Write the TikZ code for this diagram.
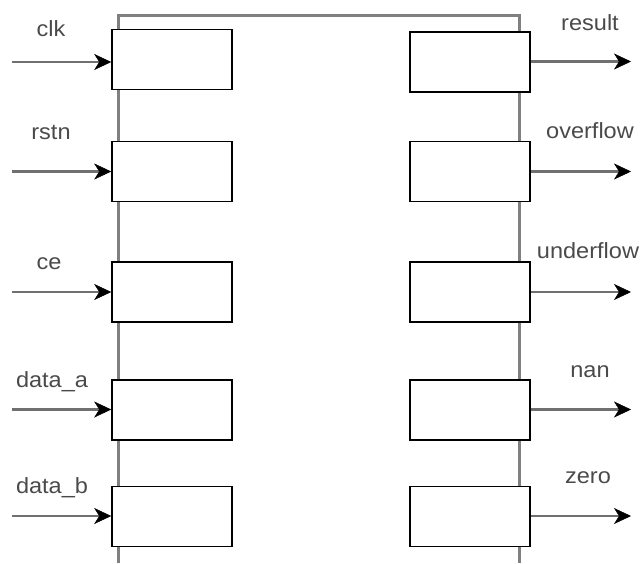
\documentclass[tikz,border=0pt]{standalone}
\usepackage{fontspec}
\setmainfont{Liberation Sans}
\newfontfamily\lblfont[FakeStretch=1.07]{Liberation Sans}
\usetikzlibrary{arrows.meta}
\definecolor{framegray}{HTML}{808080}
\definecolor{wiregray}{HTML}{707070}
\definecolor{txtgray}{HTML}{4A4A4A}
\begin{document}
\begin{tikzpicture}[x=1pt,y=-1pt,
  portbox/.style={draw=black,fill=white,line width=1.6pt,minimum width=120pt,minimum height=60pt,inner sep=0pt},
  wire/.style={draw=wiregray,line width=2.6pt,-{Stealth[length=17pt,width=16pt,inset=5pt,fill=black,color=black,line width=0.5pt]}},
  frame/.style={draw=framegray,line width=2.6pt},
  lbl/.style={text=txtgray,font=\lblfont\fontsize{22}{26}\selectfont,anchor=base,inner sep=0pt}]
\useasboundingbox (0,0) rectangle (644,563);
% outer frame
\coordinate (fbl) at (118.5,563);
\coordinate (ftl) at (118.5,15.5);
\coordinate (ftr) at (519.5,15.5);
\coordinate (fbr) at (519.5,563);
\draw[frame] (fbl) -- (ftl) -- (ftr) -- (fbr);
% left boxes
\node[portbox] (l1) at (172,59.5) {};
\node[portbox] (l2) at (172,171.5) {};
\node[portbox] (l3) at (172,292) {};
\node[portbox] (l4) at (172,410) {};
\node[portbox] (l5) at (172,516.5) {};
% right boxes
\node[portbox] (r1) at (470,62) {};
\node[portbox] (r2) at (470,171.5) {};
\node[portbox] (r3) at (470,292) {};
\node[portbox] (r4) at (470,410) {};
\node[portbox] (r5) at (470,516.5) {};
% input wire starts
\coordinate (i1) at (12,62);
\coordinate (i2) at (12,171.5);
\coordinate (i3) at (12,292);
\coordinate (i4) at (12,409.5);
\coordinate (i5) at (12,516);
\draw[wire] (i1) -- (i1 -| l1.west);
\draw[wire] (i2) -- (i2 -| l2.west);
\draw[wire] (i3) -- (i3 -| l3.west);
\draw[wire] (i4) -- (i4 -| l4.west);
\draw[wire] (i5) -- (i5 -| l5.west);
% output wire ends
\coordinate (o1) at (631,61.5);
\coordinate (o2) at (631,171.5);
\coordinate (o3) at (631,292);
\coordinate (o4) at (631,409.5);
\coordinate (o5) at (631,516);
\draw[wire] (o1 -| r1.east) -- (o1);
\draw[wire] (o2 -| r2.east) -- (o2);
\draw[wire] (o3 -| r3.east) -- (o3);
\draw[wire] (o4 -| r4.east) -- (o4);
\draw[wire] (o5 -| r5.east) -- (o5);
% labels
\node[lbl] (t1) at (51,36.7) {clk};
\node[lbl] (t2) at (51,139.3) {rstn};
\node[lbl] (t3) at (49,269) {ce};
\node[lbl] (t4) at (52,387.3) {data\_a};
\node[lbl] (t5) at (52,493.3) {data\_b};
\node[lbl] (u1) at (590,30.7) {result};
\node[lbl] (u2) at (590,138.3) {overflow};
\node[lbl] (u3) at (588,258.3) {underflow};
\node[lbl] (u4) at (590,377.3) {nan};
\node[lbl] (u5) at (588,483.3) {zero};
\end{tikzpicture}
\end{document}
